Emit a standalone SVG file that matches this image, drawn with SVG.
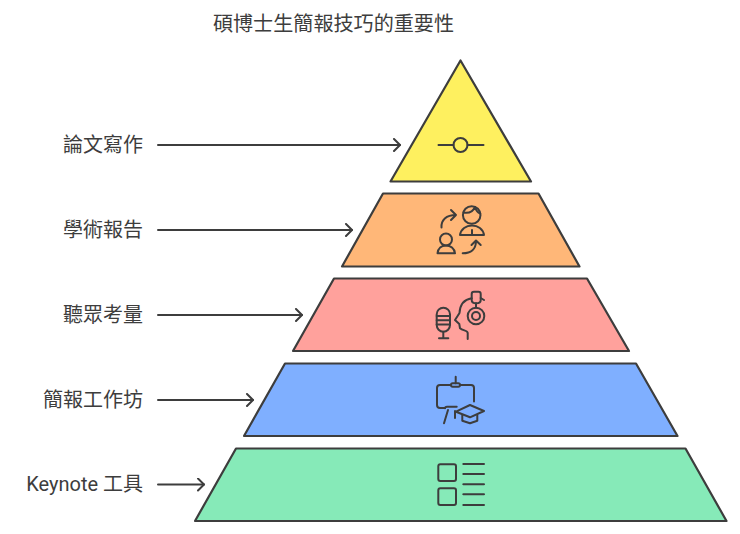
<svg xmlns="http://www.w3.org/2000/svg" width="740" height="534" viewBox="0 0 740 534">
<defs>
<marker id="arr" viewBox="0 0 12 14" refX="10.5" refY="7" markerWidth="12" markerHeight="14" markerUnits="userSpaceOnUse" orient="auto"><path d="M4.5 1 L10.5 7 L4.5 13" fill="none" stroke="#3d3d3d" stroke-width="2" stroke-linecap="round" stroke-linejoin="round"/></marker>
</defs>
<style>
text{font-family:"Roboto","Noto Sans CJK TC","Noto Sans CJK SC",sans-serif;fill:#3d3d3d;font-size:20px}
.title{font-size:20.1px;text-anchor:middle}
.label{text-anchor:end}
.tier{stroke:#3d3d3d;stroke-width:2.2;stroke-linejoin:round}
.icon{fill:none;stroke:#3d3d3d;stroke-width:2;stroke-linecap:round;stroke-linejoin:round}
.conn{fill:none;stroke:#3d3d3d;stroke-width:2;stroke-linecap:round;marker-end:url(#arr)}
</style>
<rect width="740" height="534" fill="#ffffff"/>
<text class="title" x="333.5" y="31">碩博士生簡報技巧的重要性</text>
<g id="connectors">
<line class="conn" x1="158" y1="145" x2="400" y2="145"/>
<line class="conn" x1="158" y1="230" x2="352" y2="230"/>
<line class="conn" x1="158" y1="315" x2="302" y2="315"/>
<line class="conn" x1="158" y1="400" x2="253" y2="400"/>
<line class="conn" x1="158" y1="484.500" x2="204" y2="484.500"/>
</g>
<g id="node-writing">
<polygon class="tier" fill="#fef05f" points="460.500,60.500 531,181.500 390.500,181.500"/>
<path class="icon" d="M438.500 145H453.500M467.500 145H483.500"/>
<circle class="icon" cx="460.500" cy="145" r="7"/>
<text class="label" x="143" y="151.500">論文寫作</text>
</g>
<g id="node-presenting">
<polygon class="tier" fill="#ffb778" points="383,193.500 538.500,193.500 579.500,266.500 342,266.500"/>
<path class="icon" d="M441.500 227.500C441 220 446 215 456 215M451 210L456 215L451 220"/>
<circle class="icon" cx="471.700" cy="215" r="8.800"/>
<path class="icon" d="M463.500 212.500C468.500 213.500 473 211.500 475 207C476 210.500 477.500 212.500 480.300 213.500"/>
<path class="icon" d="M460 235C461 229 466 225.500 472 225.500C478 225.500 483 229 484 235ZM472 230V235"/>
<circle class="icon" cx="446" cy="239.500" r="6"/>
<path class="icon" d="M437.500 253.300C438 248.500 441.500 245.500 446 245.500C450.500 245.500 454.500 248.500 455 253.300Z"/>
<path class="icon" d="M462.700 253.300C471 253.300 476 249 476 241M471.500 245L476 240.500L480.700 245"/>
<text class="label" x="143" y="236.500">學術報告</text>
</g>
<g id="node-audience">
<polygon class="tier" fill="#ffa19c" points="334,278.500 587,278.500 629,351 293,351"/>
<rect class="icon" x="436.700" y="307.700" width="13.300" height="24" rx="6.600"/>
<path class="icon" d="M436.700 316H450M436.700 320.200H450M436.700 324.500H450M443.300 331.700V338.300M439 338.300H448.300"/>
<path class="icon" d="M471.700 298.300C464 299.500 460 305 459.500 313L455 320L459.300 324L460 328.300C463 331 467.700 330 467.700 333V339"/>
<circle class="icon" cx="476" cy="316" r="8.300"/>
<circle class="icon" cx="476" cy="316" r="4"/>
<path class="icon" d="M476 303.300V307.700M480.700 298L484 300"/>
<path class="icon" d="M471.700 294C471.700 292.500 472.500 291.700 474 291.700H478.500C480 291.700 480.700 292.500 480.700 294V300C480.700 302 479 303.300 476.200 303.300C473.500 303.300 471.700 302 471.700 300Z"/>
<text class="label" x="143" y="321.500">聽眾考量</text>
</g>
<g id="node-workshop">
<polygon class="tier" fill="#7fafff" points="285,363.500 636,363.500 677.500,436 244,436"/>
<path class="icon" d="M455.700 376.700V383.300M451 385H440C438 385 437 386 437 388V405C437 407 438 408 440 408H445M460 385H471C473 385 474 386 474 388V401.500"/>
<rect class="icon" x="451" y="383.300" width="9" height="3.400" rx="1.700"/>
<path class="icon" d="M445 408.300C445 407.300 446 406.700 447 406.700H456.700M448 410L444 423.300M455 411V418"/>
<polygon class="icon" points="456,411.700 470,405 484,411 470,417.300"/>
<path class="icon" d="M462.300 415V420.700L470 423.300L477.300 420.700V415"/>
<text class="label" x="143" y="406.500">簡報工作坊</text>
</g>
<g id="node-keynote">
<polygon class="tier" fill="#86eab8" points="236,448.500 685.500,448.500 726.500,521 195,521"/>
<rect class="icon" x="438.300" y="464.300" width="17.700" height="16.700" rx="2"/>
<rect class="icon" x="438.300" y="488.300" width="17.700" height="16.700" rx="2"/>
<path class="icon" d="M463.300 464H484M463.300 474H484M463.300 484.300H484M463.300 494.300H484M463.300 505H484"/>
<text class="label" x="143" y="491">Keynote 工具</text>
</g>
</svg>
